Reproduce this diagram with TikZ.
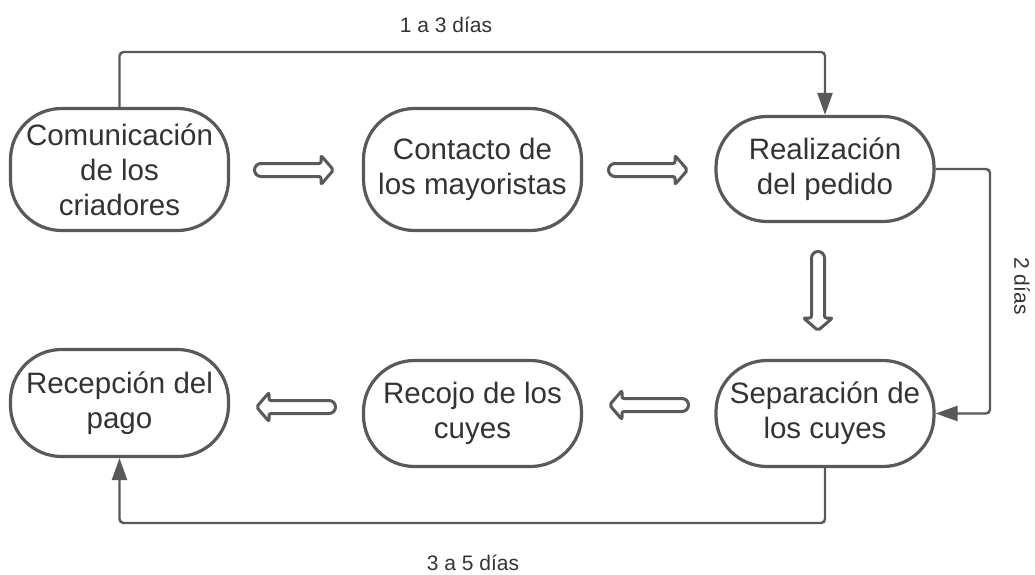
\documentclass[tikz,border=0pt]{standalone}
\usepackage{fontspec}
\setmainfont{Liberation Sans}
\usetikzlibrary{arrows.meta}
\definecolor{ln}{HTML}{595959}
\definecolor{tx}{HTML}{333333}
\begin{document}
\begin{tikzpicture}[x=1pt,y=-1pt,
  box/.style={draw=ln, line width=3.2pt, rounded corners=51pt, minimum width=218pt, inner sep=0pt, align=center, text=tx, font=\fontsize{29.5}{35}\selectfont},
  conn/.style={draw=ln, line width=2.4pt, rounded corners=4pt},
  tip/.style={-{Triangle[length=22pt,width=15pt]}},
  lbl/.style={text=tx, font=\fontsize{21}{25}\selectfont},
  blockarr/.pic={\draw[line width=3pt, draw=ln, line join=round, rounded corners=2pt]
      (68,-6.5) -- (68,-14.5) -- (80.5,0) -- (68,14.5) -- (68,6.5)
      [rounded corners=6.5pt] -- (1.5,6.5) -- (1.5,-6.5) [rounded corners=2pt] -- cycle;}
]
\useasboundingbox[fill=white] (0,0) rectangle (1035,575);

\node[box, minimum height=122pt] (c1) at (119.5,169.5) {Comunicación\\de los\\criadores};
\node[box, minimum height=122pt] (c2) at (472.5,169.5) {Contacto de\\los mayoristas};
\node[box, minimum height=105pt] (c3) at (825,169) {Realización\\del pedido};
\node[box, minimum height=106pt] (c4) at (472.5,413.5) {Recojo de los\\cuyes};
\node[box, minimum height=106pt] (c5) at (825,413.5) {Separación de\\los cuyes};
\node[box, minimum height=107pt] (c6) at (119.5,403) {Recepción del\\pago};

\pic at (253,170) {blockarr};
\pic at (607,170) {blockarr};
\pic[rotate=-90] at (818,250) {blockarr};
\pic[rotate=180] at (690,405) {blockarr};
\pic[rotate=180] at (337,407) {blockarr};

\coordinate (top) at (0,52);
\coordinate (right) at (990,0);
\coordinate (bot) at (0,523);

\draw[conn, tip] (c1.north) -- (c1.north |- top) -- (c3.north |- top) -- (c3.north);
\draw[conn, tip] (c3.east) -- (c3.east -| right) -- (c5.east -| right) -- (c5.east);
\draw[conn, tip] (c5.south) -- (c5.south |- bot) -- (c6.south |- bot) -- (c6.south);

\node[lbl] (l1) at (446,25) {1 a 3 días};
\node[lbl, rotate=-90] (l2) at (1022,286) {2 días};
\node[lbl] (l3) at (473,563) {3 a 5 días};
\end{tikzpicture}
\end{document}
